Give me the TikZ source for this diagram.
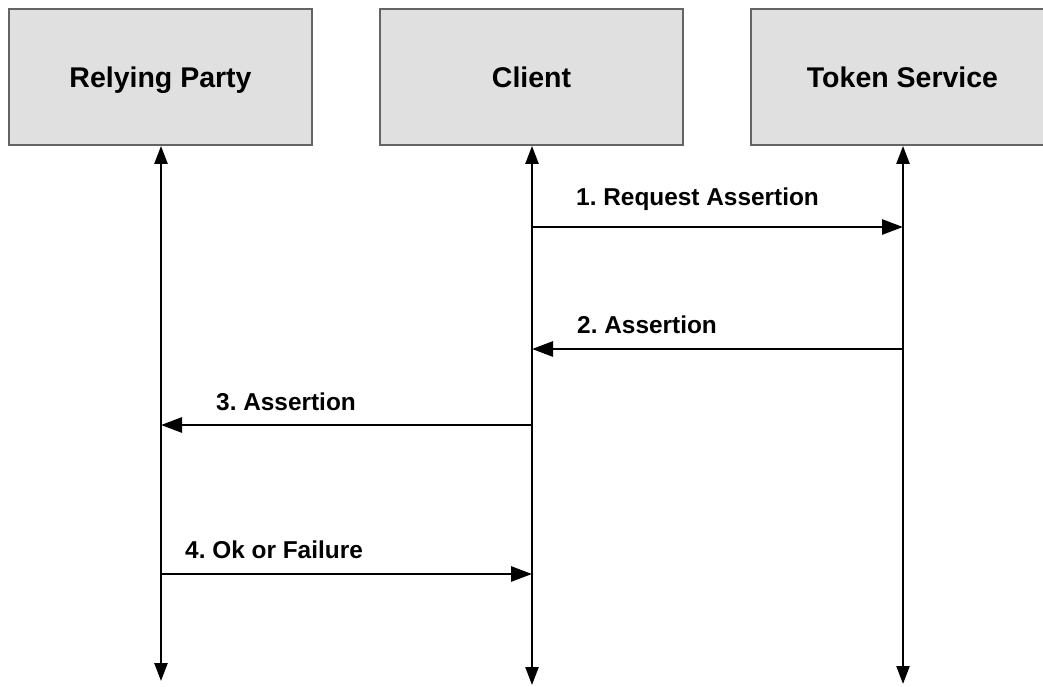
\documentclass[tikz,border=0pt]{standalone}
\usepackage{fontspec}
\setmainfont{Liberation Sans}
\usetikzlibrary{arrows.meta}
\definecolor{boxfill}{RGB}{224,224,224}
\definecolor{boxline}{RGB}{100,100,100}
\tikzset{
  party/.style={draw=boxline, line width=1.8pt, fill=boxfill,
    minimum width=303pt, minimum height=136pt, inner sep=0pt,
    font=\fontsize{28.5}{30}\selectfont\bfseries,
    text height=20.5pt, text depth=0pt},
  lifeline/.style={line width=2.4pt, {Triangle[length=18pt,width=13pt]}-{Triangle[length=18pt,width=13pt]}},
  message/.style={line width=2.8pt, -{Triangle[length=21pt,width=15pt]}},
  msglabel/.style={anchor=base west, inner sep=0pt,
    font=\fontsize{24.4}{26}\selectfont\bfseries}
}
\begin{document}
\frenchspacing
\begin{tikzpicture}[x=1pt,y=-1pt]
  \clip (0,0) rectangle (1043,686);
  \fill[white] (0,0) rectangle (1043,686);

  % participants
  \node[party] (rp) at (160.5,77) {Relying Party};
  \node[party] (cl) at (531.5,77) {Client};
  \node[party] (ts) at (902.5,77) {Token Service};

  % lifeline ends
  \coordinate (rpEnd) at (161,681);
  \coordinate (clEnd) at (532,685);
  \coordinate (tsEnd) at (903,684);
  \draw[lifeline] (rp.south -| rpEnd) -- (rpEnd);
  \draw[lifeline] (cl.south -| clEnd) -- (clEnd);
  \draw[lifeline] (ts.south -| tsEnd) -- (tsEnd);

  % message anchors on the lifelines
  \coordinate (m1a) at (532,227);  \coordinate (m1b) at (903,227);
  \coordinate (m2a) at (903,349);  \coordinate (m2b) at (532,349);
  \coordinate (m3a) at (532,425);  \coordinate (m3b) at (161,425);
  \coordinate (m4a) at (161,574);  \coordinate (m4b) at (532,574);

  \draw[message] (m1a) -- (m1b);
  \draw[message] (m2a) -- (m2b);
  \draw[message] (m3a) -- (m3b);
  \draw[message] (m4a) -- (m4b);

  % message labels
  \node[msglabel] (l1) at (576,205) {1. Request Assertion};
  \node[msglabel] (l2) at (577,333) {2. Assertion};
  \node[msglabel] (l3) at (216,410) {3. Assertion};
  \node[msglabel] (l4) at (185,558) {4. Ok or Failure};
\end{tikzpicture}
\end{document}
